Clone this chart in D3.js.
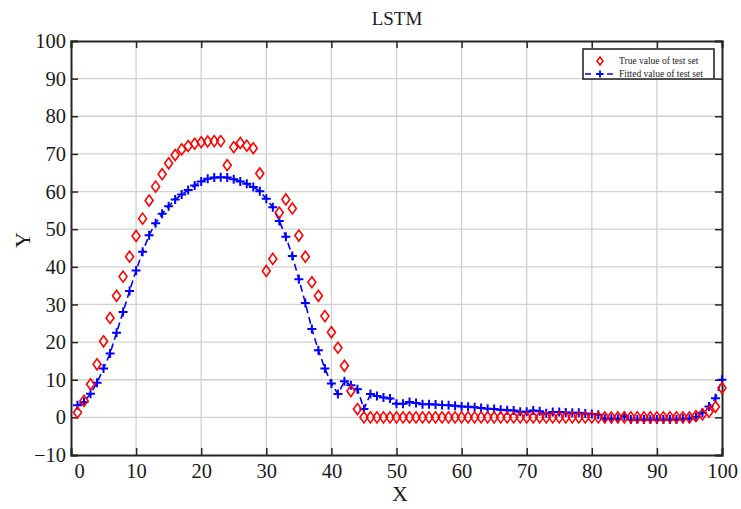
<!DOCTYPE html>
<html>
<head>
<meta charset="utf-8">
<script src="https://cdn.jsdelivr.net/npm/d3@7"></script>
<style>
  body { margin: 0; background: white; }
  text { font-family: "Liberation Serif", "Times New Roman", serif; fill: #1a1a1a; }
</style>
</head>
<body>
<svg id="chart" width="741" height="509"></svg>
<script>
// sample index on the x axis
var sampleIndex = d3.range(1, 101);

// true value of test set (red diamonds)
var trueValues = [
  1.3, 4.4, 8.8, 14.1, 20.2, 26.4, 32.3, 37.4, 42.7, 48.2,
  52.8, 57.6, 61.3, 64.6, 67.5, 69.7, 71.2, 72.1, 72.7, 73.1,
  73.3, 73.4, 73.4, 67.0, 71.8, 72.9, 72.2, 71.5, 64.8, 38.9,
  42.1, 54.4, 57.9, 55.5, 48.3, 42.7, 35.9, 32.3, 26.9, 22.6,
  18.5, 13.7, 7.0, 2.2, 0, 0, 0, 0, 0, 0,
  0, 0, 0, 0, 0, 0, 0, 0, 0, 0,
  0, 0, 0, 0, 0, 0, 0, 0, 0, 0,
  0, 0, 0, 0, 0, 0, 0, 0, 0, 0,
  0, 0, 0, 0, 0, 0, 0, 0, 0, 0,
  0, 0, 0, 0, 0, 0.3, 0.8, 1.5, 2.8, 7.8
];

// fitted value of test set (blue dashed line with plus markers)
var fittedValues = [
  3.2, 4.1, 6.3, 9.2, 13.0, 17.0, 22.5, 28.0, 33.6, 39.0,
  44.0, 48.4, 51.6, 54.1, 56.1, 57.9, 59.2, 60.4, 61.6, 62.7,
  63.4, 63.7, 63.8, 63.7, 63.3, 62.7, 62.1, 61.2, 60.1, 58.1,
  55.8, 52.2, 48.0, 42.9, 36.7, 30.4, 23.5, 17.8, 13.0, 9.0,
  6.2, 9.6, 8.5, 7.5, 2.2, 6.2, 5.7, 5.3, 5.0, 3.6,
  3.6, 4.1, 3.8, 3.5, 3.5, 3.4, 3.3, 3.2, 3.1, 2.9,
  2.8, 2.7, 2.5, 2.3, 2.2, 2.0, 1.9, 1.8, 1.5, 1.5,
  1.8, 1.6, 1.1, 1.4, 1.4, 1.3, 1.2, 1.2, 1.0, 0.9,
  0.7, -0.4, -0.4, -0.4, 0.3, -0.6, -0.6, -0.6, -0.6, -0.6,
  -0.6, -0.6, -0.6, -0.4, -0.4, 0.1, 1.2, 2.9, 5.1, 10.0
];

var xTicks = [0, 10, 20, 30, 40, 50, 60, 70, 80, 90, 100];
var yTicks = [-10, 0, 10, 20, 30, 40, 50, 60, 70, 80, 90, 100];
var legendLabels = ["True value of test set", "Fitted value of test set"];

// plot box (window.top is taken, so prefix these)
var plotLeft = 71, plotRight = 722, plotTop = 41, plotBottom = 455;
var tickLen = 7;
var axisColor = "#262626";
var gridColor = "#d0d0d0";

var svg = d3.select("#chart");

var x = d3.scaleLinear().domain([0, 100]).range([plotLeft, plotRight]);
var y = d3.scaleLinear().domain([-10, 100]).range([plotBottom, plotTop]);

var trueData = sampleIndex.map(function (d, i) { return [d, trueValues[i]]; });
var fitData = sampleIndex.map(function (d, i) { return [d, fittedValues[i]]; });

// grid
svg.append("g").selectAll("line").data(xTicks.slice(1, -1)).enter().append("line")
  .attr("x1", d => x(d)).attr("x2", d => x(d))
  .attr("y1", plotTop).attr("y2", plotBottom)
  .attr("stroke", gridColor).attr("stroke-width", 1.3);
svg.append("g").selectAll("line").data(yTicks.slice(1, -1)).enter().append("line")
  .attr("x1", plotLeft).attr("x2", plotRight)
  .attr("y1", d => y(d)).attr("y2", d => y(d))
  .attr("stroke", gridColor).attr("stroke-width", 1.3);

// axes, ticks pointing inward on all four sides
var xAxisB = d3.axisBottom(x).tickValues(xTicks).tickSize(-tickLen).tickPadding(8).tickFormat(d3.format("d"));
var xAxisT = d3.axisTop(x).tickValues(xTicks).tickSize(-tickLen).tickFormat("");
var yAxisL = d3.axisLeft(y).tickValues(yTicks).tickSize(-tickLen).tickPadding(5).tickFormat(d3.format("d"));
var yAxisR = d3.axisRight(y).tickValues(yTicks).tickSize(-tickLen).tickFormat("");

function styleAxis(g) {
  g.select(".domain").attr("stroke", axisColor).attr("stroke-width", 2);
  g.selectAll(".tick line").attr("stroke", axisColor).attr("stroke-width", 1.5);
  g.selectAll(".tick text").attr("fill", "#1a1a1a").style("font-size", "20.5px")
    .style("font-family", "'Liberation Serif', 'Times New Roman', serif");
}

var gxb = svg.append("g").attr("transform", "translate(0," + plotBottom + ")").call(xAxisB).call(styleAxis);
svg.append("g").attr("transform", "translate(0," + plotTop + ")").call(xAxisT).call(styleAxis);
var gyl = svg.append("g").attr("transform", "translate(" + plotLeft + ",0)").call(yAxisL).call(styleAxis);
svg.append("g").attr("transform", "translate(" + plotRight + ",0)").call(yAxisR).call(styleAxis);

// the "0" label on x sits a little right of the corner in the original
gxb.selectAll(".tick text").filter(d => d === 0).attr("dx", 8);
gyl.selectAll(".tick text").filter(d => d === -10).text("\u221210");

// fitted line
var line = d3.line().x(d => x(d[0])).y(d => y(d[1]));
svg.append("path").datum(fitData)
  .attr("d", line)
  .attr("fill", "none")
  .attr("stroke", "#0000ff")
  .attr("stroke-width", 1.6)
  .attr("stroke-dasharray", "7,4");

function plusPath(s) {
  return "M" + (-s) + ",0H" + s + "M0," + (-s) + "V" + s;
}
function diamondPath(w, h) {
  return "M0," + (-h) + "L" + w + ",0L0," + h + "L" + (-w) + ",0Z";
}

svg.append("g").selectAll("path").data(fitData).enter().append("path")
  .attr("transform", d => "translate(" + x(d[0]) + "," + y(d[1]) + ")")
  .attr("d", plusPath(4.5))
  .attr("stroke", "#0000ff").attr("stroke-width", 2).attr("fill", "none");

svg.append("g").selectAll("path").data(trueData).enter().append("path")
  .attr("transform", d => "translate(" + x(d[0]) + "," + y(d[1]) + ")")
  .attr("d", diamondPath(4, 5.5))
  .attr("stroke", "#ff0000").attr("stroke-width", 1.6).attr("fill", "none");

// title and axis labels
svg.append("text").attr("x", 397).attr("y", 25).attr("text-anchor", "middle")
  .style("font-size", "19px").text("LSTM");
svg.append("text").attr("x", 400).attr("y", 501).attr("text-anchor", "middle")
  .style("font-size", "22px").text("X");
svg.append("text").attr("transform", "translate(30,240) rotate(-90)").attr("text-anchor", "middle")
  .style("font-size", "22px").text("Y");

// legend
var legend = svg.append("g").attr("transform", "translate(583,49)");
legend.append("rect").attr("width", 131).attr("height", 30)
  .attr("fill", "white").attr("stroke", "#1a1a1a").attr("stroke-width", 1.5);
legend.append("path").attr("transform", "translate(17,12)").attr("d", diamondPath(3, 4))
  .attr("stroke", "#ff0000").attr("stroke-width", 1.5).attr("fill", "none");
legend.append("line").attr("x1", 2).attr("x2", 32).attr("y1", 25).attr("y2", 25)
  .attr("stroke", "#0000ff").attr("stroke-width", 1.5).attr("stroke-dasharray", "6,5");
legend.append("path").attr("transform", "translate(17,25)").attr("d", plusPath(3.5))
  .attr("stroke", "#0000ff").attr("stroke-width", 1.8);
legend.selectAll("text.lg").data(legendLabels).enter().append("text")
  .attr("class", "lg")
  .attr("x", 36).attr("y", (d, i) => 15 + i * 13)
  .style("font-size", "9.5px")
  .text(d => d);
</script>
</body>
</html>
